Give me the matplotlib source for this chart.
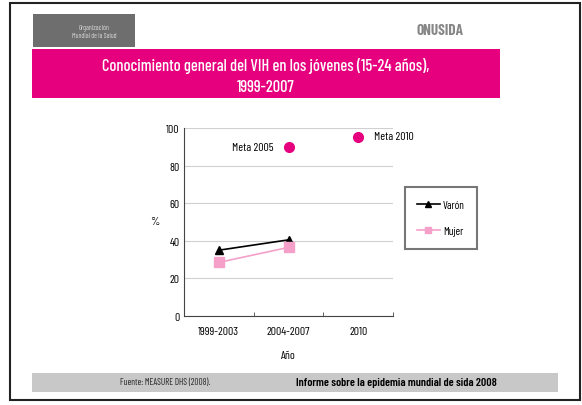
import matplotlib.pyplot as plt
from matplotlib.patches import Rectangle
import numpy as np

# Data
categories = ['1999-2003', '2004-2007', '2010']
varon = [35, 40.5]
mujer = [28.5, 36.5]
meta_labels = ['Meta 2005', 'Meta 2010']
meta_values = [90, 95]
yticks = [0, 20, 40, 60, 80, 100]

plt.rcParams['font.family'] = ['Barlow Condensed', 'Roboto Condensed', 'DejaVu Sans']

fig = plt.figure(figsize=(5.82, 4.06), dpi=100)
W, H = 582.0, 406.0

def fx(px): return px / W
def fy(py): return 1 - py / H

# outer frame
fig.add_artist(Rectangle((fx(10), fy(401)), fx(570), 397 / H, transform=fig.transFigure,
                         fill=False, edgecolor='#222222', lw=1.5))
# logo placeholders
fig.add_artist(Rectangle((fx(33), fy(48)), fx(102), 33 / H, transform=fig.transFigure,
                         facecolor='#6e6e6e', edgecolor='none'))
fig.text(fx(94), fy(32), 'Organización\nMundial de la Salud', color='#d8d8d8', fontsize=5,
         ha='center', va='center')
fig.text(fx(440), fy(31), 'ONUSIDA', color='#555555', fontsize=11, fontweight='bold',
         ha='center', va='center', alpha=0.7)
# pink title banner
fig.add_artist(Rectangle((fx(32), fy(99)), fx(468), 49 / H, transform=fig.transFigure,
                         facecolor='#E6007E', edgecolor='none'))
fig.text(fx(266), fy(76), 'Conocimiento general del VIH en los jóvenes (15-24 años),\n1999-2007',
         color='white', fontsize=11.8, fontweight='medium', ha='center', va='center',
         linespacing=1.5)
# footer bar
fig.add_artist(Rectangle((fx(32), fy(393)), fx(526), 19 / H, transform=fig.transFigure,
                         facecolor='#C8C8C8', edgecolor='none'))
fig.text(fx(165), fy(383), 'Fuente: MEASURE DHS (2008).', fontsize=6.5, ha='center', va='center',
         color='#222222')
fig.text(fx(396), fy(383), 'Informe sobre la epidemia mundial de sida 2008', fontsize=8.5,
         ha='center', va='center', color='black', fontweight='semibold')

ax = fig.add_axes([fx(184), fy(317), fx(209), 188 / H])
x = np.arange(len(categories))
ax.plot(x[:2], varon, color='black', marker='^', markersize=6, lw=1.2, label='Varón')
ax.plot(x[:2], mujer, color='#F5A0C8', marker='s', markersize=7, lw=1.2, label='Mujer')
ax.plot(x[1:], meta_values, linestyle='none', marker='o', markersize=7, color='#E6007E')
ax.text(x[1] - 0.21, meta_values[0], meta_labels[0], fontsize=8.5, ha='right', va='center')
ax.text(x[2] + 0.23, meta_values[1] + 1, meta_labels[1], fontsize=8.5, ha='left', va='center')

ax.set_xlim(-0.5, 2.5)
ax.set_ylim(0, 100)
ax.set_yticks(yticks)
ax.set_xticks(x)
ax.set_xticklabels(categories)
ax.set_xticks([-0.5, 0.5, 1.5, 2.5], minor=True)
ax.tick_params(axis='x', which='major', length=0, labelsize=8.5, pad=7)
ax.tick_params(axis='x', which='minor', length=3, direction='in', color='#444444')
ax.tick_params(axis='y', length=0, labelsize=8.5, pad=3)
ax.grid(axis='y', color='#d0d0d0', lw=0.8)
ax.set_axisbelow(True)
for s in ['top', 'right']:
    ax.spines[s].set_visible(False)
for s in ['left', 'bottom']:
    ax.spines[s].set_color('#444444')
ax.set_ylabel('%', fontsize=8.5, rotation=0, va='center', ha='center')
ax.yaxis.set_label_coords(-0.139, 0.505)
ax.set_xlabel('Año', fontsize=8.5)
ax.xaxis.set_label_coords(0.5, -0.18)

leg = fig.legend(handles=ax.lines[:2], loc='center', bbox_to_anchor=(fx(441), fy(219)),
                 fontsize=8, frameon=True, fancybox=False, handlelength=2, markerscale=0.7,
                 borderpad=1.1, labelspacing=1.5, handletextpad=0.3)
leg.get_frame().set_edgecolor('#555555')
leg.get_frame().set_linewidth(1.5)

fig.savefig('out.png', dpi=100)
